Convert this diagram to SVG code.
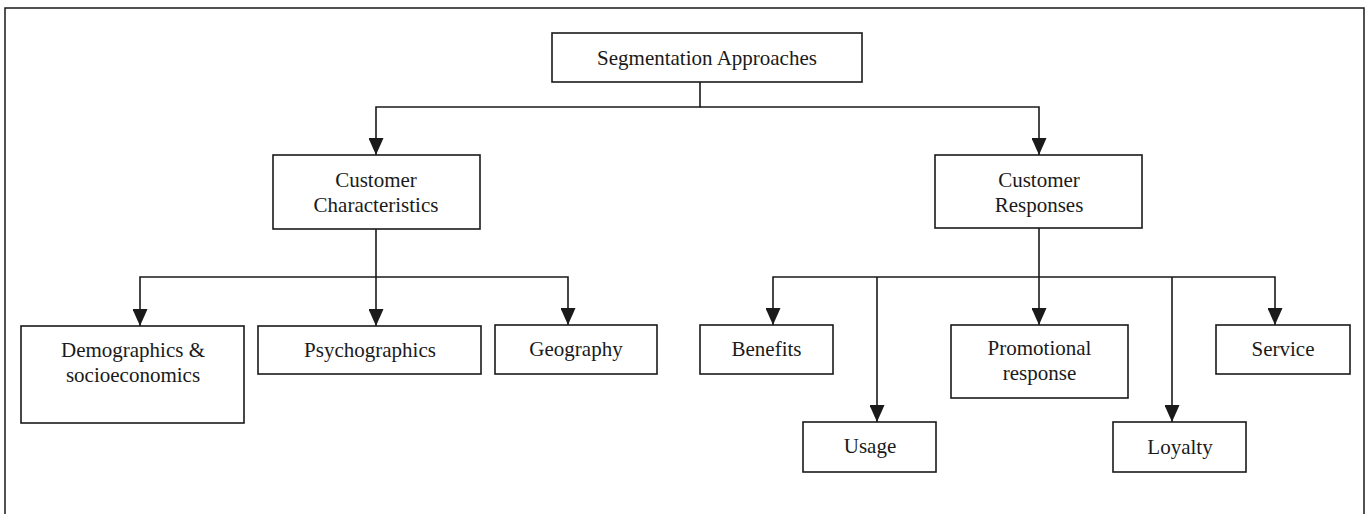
<svg xmlns="http://www.w3.org/2000/svg" width="1372" height="514" viewBox="0 0 1372 514">
  <style>
    .box { fill: #ffffff; stroke: #1a1a1a; stroke-width: 1.6; }
    .lbl { font-family: "Liberation Serif", "Times New Roman", serif; font-size: 21px; fill: #1a1a1a; text-anchor: middle; }
    .wire { fill: none; stroke: #1a1a1a; stroke-width: 1.6; }
    .frame { fill: none; stroke: #1a1a1a; stroke-width: 1.5; }
  </style>
  <defs>
    <marker id="arrow" markerUnits="userSpaceOnUse" markerWidth="17" markerHeight="15" refX="17" refY="7.5" orient="auto">
      <path d="M0,0 L17,7.5 L0,15 z" fill="#1a1a1a"/>
    </marker>
  </defs>

  <rect width="1372" height="514" fill="#ffffff"/>
  <!-- open frame around the chart -->
  <path class="frame" d="M5,514 V8 H1364 V514"/>

  <g id="connectors">
    <path class="wire" d="M700,82 V107 H376 V155" marker-end="url(#arrow)"/>
    <path class="wire" d="M700,107 H1039 V155" marker-end="url(#arrow)"/>

    <path class="wire" d="M376,229 V326" marker-end="url(#arrow)"/>
    <path class="wire" d="M376,277 H140 V326" marker-end="url(#arrow)"/>
    <path class="wire" d="M376,277 H568 V325" marker-end="url(#arrow)"/>

    <path class="wire" d="M1039,228 V325" marker-end="url(#arrow)"/>
    <path class="wire" d="M1039,277 H773 V325" marker-end="url(#arrow)"/>
    <path class="wire" d="M877,277 V422" marker-end="url(#arrow)"/>
    <path class="wire" d="M1039,277 H1275 V325" marker-end="url(#arrow)"/>
    <path class="wire" d="M1172,277 V422" marker-end="url(#arrow)"/>
  </g>

  <g id="segmentation-approaches">
    <rect class="box" x="552" y="33" width="310" height="49"/>
    <text class="lbl" x="707" y="65">Segmentation Approaches</text>
  </g>

  <g id="customer-characteristics">
    <rect class="box" x="273" y="155" width="207" height="74"/>
    <text class="lbl" x="376" y="187">Customer</text>
    <text class="lbl" x="376" y="212">Characteristics</text>
  </g>

  <g id="customer-responses">
    <rect class="box" x="935" y="155" width="207" height="73"/>
    <text class="lbl" x="1039" y="187">Customer</text>
    <text class="lbl" x="1039" y="212">Responses</text>
  </g>

  <g id="demographics">
    <rect class="box" x="21" y="326" width="223" height="97"/>
    <text class="lbl" x="133" y="357">Demographics &amp;</text>
    <text class="lbl" x="133" y="382">socioeconomics</text>
  </g>

  <g id="psychographics">
    <rect class="box" x="258" y="326" width="223" height="48"/>
    <text class="lbl" x="370" y="357">Psychographics</text>
  </g>

  <g id="geography">
    <rect class="box" x="495" y="325" width="162" height="49"/>
    <text class="lbl" x="576" y="356">Geography</text>
  </g>

  <g id="benefits">
    <rect class="box" x="700" y="325" width="133" height="49"/>
    <text class="lbl" x="766.5" y="356">Benefits</text>
  </g>

  <g id="usage">
    <rect class="box" x="803" y="422" width="133" height="50"/>
    <text class="lbl" x="870" y="453">Usage</text>
  </g>

  <g id="promotional-response">
    <rect class="box" x="951" y="325" width="177" height="73"/>
    <text class="lbl" x="1039.5" y="355">Promotional</text>
    <text class="lbl" x="1039.5" y="380">response</text>
  </g>

  <g id="loyalty">
    <rect class="box" x="1113" y="422" width="133" height="50"/>
    <text class="lbl" x="1180" y="454">Loyalty</text>
  </g>

  <g id="service">
    <rect class="box" x="1216" y="325" width="134" height="49"/>
    <text class="lbl" x="1283" y="356">Service</text>
  </g>
</svg>
